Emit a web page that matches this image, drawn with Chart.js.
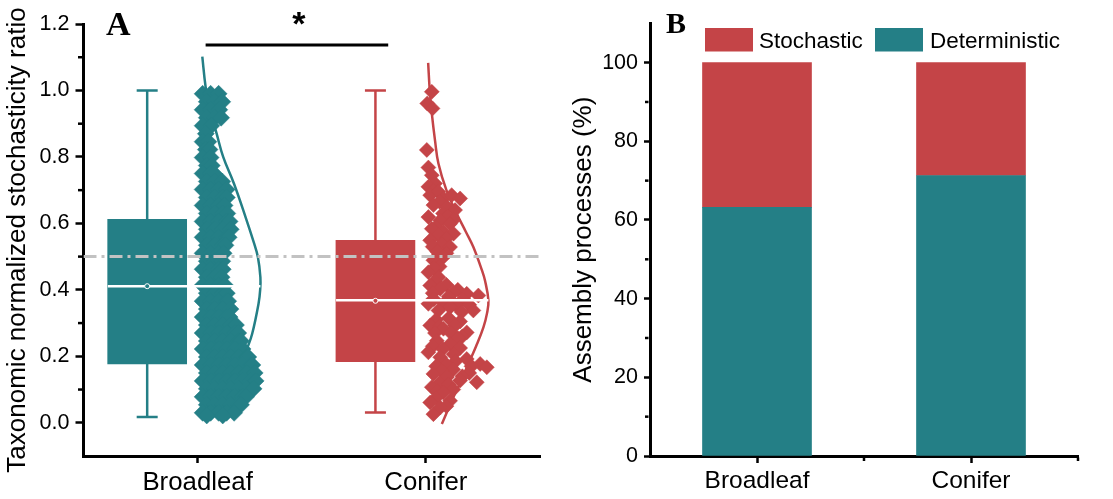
<!DOCTYPE html>
<html><head><meta charset="utf-8">
<script src="https://cdn.jsdelivr.net/npm/chart.js@4.4.1/dist/chart.umd.min.js"></script>
<style>
html,body{margin:0;padding:0;background:#fff;}
#wrap{position:relative;width:1113px;height:499px;overflow:hidden;background:#fff;}
#a{position:absolute;left:0;top:0;}
#b{position:absolute;left:560px;top:0;}
</style></head><body>
<div id="wrap"><canvas id="a" width="560" height="499"></canvas><canvas id="b" width="553" height="499"></canvas></div>
<script>
// ---------- data ----------
const categories = ['Broadleaf', 'Conifer'];
const groupX = [1, 2];
const whiskerLow = [0.017, 0.031];
const q1 = [0.177, 0.184];
const medians = [0.411, 0.369];
const means = [0.411, 0.367];
const q3 = [0.612, 0.549];
const whiskerHigh = [1.0, 1.0];
const thresholdRatio = 0.5;
const sigBracket = [1.035, 1.835, 1.137];
const yTicksA = [0, 0.2, 0.4, 0.6, 0.8, 1.0, 1.2];
const yMinorA = [0.1, 0.3, 0.5, 0.7, 0.9, 1.1];

const broadleafPoints = [
[1.022,0.990],[1.057,0.990],[1.092,0.990],
[1.040,0.966],[1.075,0.966],[1.108,0.966],
[1.022,0.942],[1.057,0.942],[1.095,0.942],
[1.040,0.918],[1.075,0.918],[1.103,0.918],
[1.022,0.894],[1.060,0.894],
[1.036,0.870],
[1.022,0.846],[1.047,0.846],
[1.036,0.822],[1.052,0.822],
[1.022,0.798],[1.057,0.798],
[1.040,0.774],[1.062,0.774],
[1.022,0.750],[1.057,0.750],[1.072,0.750],
[1.040,0.726],[1.075,0.726],[1.108,0.726],
[1.022,0.702],[1.057,0.702],[1.092,0.702],[1.127,0.702],
[1.040,0.678],[1.075,0.678],[1.110,0.678],[1.128,0.678],
[1.022,0.654],[1.057,0.654],[1.092,0.654],[1.118,0.654],
[1.040,0.630],[1.075,0.630],[1.110,0.630],[1.130,0.630],
[1.022,0.606],[1.057,0.606],[1.092,0.606],[1.127,0.606],[1.140,0.606],
[1.040,0.582],[1.075,0.582],[1.110,0.582],[1.145,0.582],
[1.022,0.558],[1.057,0.558],[1.092,0.558],[1.127,0.558],[1.136,0.558],
[1.040,0.534],[1.075,0.534],[1.110,0.534],[1.122,0.534],
[1.022,0.510],[1.057,0.510],[1.092,0.510],[1.114,0.510],
[1.040,0.486],[1.075,0.486],[1.108,0.486],
[1.022,0.462],[1.057,0.462],[1.092,0.462],[1.110,0.462],
[1.040,0.438],[1.075,0.438],[1.105,0.438],
[1.022,0.414],[1.057,0.414],[1.092,0.414],[1.120,0.414],
[1.040,0.390],[1.075,0.390],[1.110,0.390],[1.128,0.390],
[1.022,0.366],[1.057,0.366],[1.092,0.366],[1.127,0.366],[1.134,0.366],
[1.040,0.342],[1.075,0.342],[1.110,0.342],[1.144,0.342],
[1.022,0.318],[1.057,0.318],[1.092,0.318],[1.127,0.318],[1.140,0.318],
[1.040,0.294],[1.075,0.294],[1.110,0.294],[1.145,0.294],[1.168,0.294],
[1.022,0.270],[1.057,0.270],[1.092,0.270],[1.127,0.270],[1.162,0.270],[1.178,0.270],
[1.040,0.246],[1.075,0.246],[1.110,0.246],[1.145,0.246],[1.180,0.246],[1.190,0.246],
[1.022,0.222],[1.057,0.222],[1.092,0.222],[1.127,0.222],[1.162,0.222],[1.197,0.222],
[1.040,0.198],[1.075,0.198],[1.110,0.198],[1.145,0.198],[1.180,0.198],[1.215,0.198],[1.222,0.198],
[1.022,0.174],[1.057,0.174],[1.092,0.174],[1.127,0.174],[1.162,0.174],[1.197,0.174],[1.232,0.174],[1.240,0.174],
[1.040,0.150],[1.075,0.150],[1.110,0.150],[1.145,0.150],[1.180,0.150],[1.215,0.150],[1.250,0.150],
[1.022,0.126],[1.057,0.126],[1.092,0.126],[1.127,0.126],[1.162,0.126],[1.197,0.126],[1.232,0.126],[1.254,0.126],
[1.040,0.102],[1.075,0.102],[1.110,0.102],[1.145,0.102],[1.180,0.102],[1.215,0.102],[1.245,0.102],
[1.022,0.078],[1.057,0.078],[1.092,0.078],[1.127,0.078],[1.162,0.078],[1.197,0.078],[1.212,0.078],
[1.040,0.054],[1.075,0.054],[1.110,0.054],[1.145,0.054],[1.180,0.054],[1.190,0.054],
[1.022,0.030],[1.057,0.030],[1.092,0.030],[1.127,0.030],[1.160,0.030],
[1.040,0.022],[1.110,0.022]
];

const coniferPoints = [
[2.026,0.996],[2.006,0.961],[2.029,0.946],[2.004,0.821],[2.011,0.768],[2.026,0.745],
[2.040,0.720],[2.011,0.710],[2.033,0.700],[2.019,0.685],[2.055,0.695],[2.077,0.675],
[2.113,0.685],[2.150,0.675],[2.060,0.665],[2.033,0.655],[2.092,0.650],[2.128,0.640],
[2.075,0.630],[2.011,0.619],[2.095,0.620],[2.120,0.610],[2.063,0.609],[2.106,0.599],
[2.045,0.590],[2.026,0.584],[2.077,0.574],[2.121,0.569],[2.055,0.565],[2.090,0.555],
[2.019,0.549],[2.070,0.539],[2.030,0.530],[2.106,0.529],[2.050,0.515],[2.090,0.510],
[2.077,0.499],[2.033,0.489],[2.060,0.470],[2.035,0.465],[2.011,0.453],[2.055,0.438],
[2.040,0.425],[2.090,0.415],[2.019,0.413],[2.063,0.403],[2.140,0.400],[2.121,0.393],
[2.030,0.390],[2.179,0.388],[2.230,0.383],[2.100,0.380],[2.035,0.372],[2.160,0.370],
[2.080,0.360],[2.011,0.358],[2.190,0.355],[2.130,0.355],[2.106,0.348],[2.055,0.338],
[2.208,0.338],[2.157,0.333],[2.100,0.315],[2.045,0.310],[2.150,0.305],[2.019,0.293],
[2.128,0.293],[2.060,0.290],[2.077,0.283],[2.179,0.272],[2.040,0.270],[2.110,0.270],
[2.160,0.260],[2.140,0.255],[2.048,0.247],[2.106,0.237],[2.030,0.230],[2.150,0.225],
[2.075,0.222],[2.011,0.212],[2.121,0.206],[2.063,0.197],[2.179,0.192],[2.130,0.185],
[2.238,0.177],[2.090,0.175],[2.045,0.170],[2.200,0.170],[2.267,0.167],[2.120,0.160],
[2.070,0.155],[2.190,0.150],[2.033,0.147],[2.160,0.140],[2.092,0.137],[2.150,0.127],
[2.223,0.122],[2.060,0.120],[2.100,0.115],[2.026,0.107],[2.120,0.100],[2.050,0.095],
[2.077,0.091],[2.045,0.075],[2.106,0.066],[2.019,0.061],[2.090,0.050],[2.063,0.046],
[2.033,0.026]
];

const broadleafCurve = [
[1.0205,1.102],[1.035,1.011],[1.055,0.940],[1.083,0.871],[1.112,0.800],[1.159,0.720],
[1.210,0.619],[1.245,0.545],[1.264,0.499],[1.275,0.438],[1.274,0.400],[1.267,0.359],
[1.239,0.268],[1.215,0.220]
];
const coniferCurve = [
[2.010,1.083],[2.017,1.000],[2.026,0.931],[2.040,0.850],[2.055,0.780],[2.090,0.700],
[2.135,0.630],[2.175,0.575],[2.208,0.529],[2.245,0.460],[2.259,0.428],[2.274,0.368],
[2.268,0.330],[2.252,0.287],[2.220,0.230],[2.186,0.177],[2.150,0.120],[2.120,0.076],
[2.070,-0.004]
];

const deterministic = [63.2, 71.3];
const stochastic = [36.8, 28.7];
const yTicksB = [0, 20, 40, 60, 80, 100];
const yMinorB = [10, 30, 50, 70, 90];
const xMinorB = [0.5, 1.5];

// ---------- style ----------
const TEAL = '#247f86', RED = '#c44447';
const colors = [TEAL, RED];
const SANS = "'Liberation Sans', Arial, sans-serif";
const SERIF = "'Liberation Serif', 'Times New Roman', serif";
const boxOffset = -0.221, boxHalf = 0.1725, capHalf = 0.046;
Chart.defaults.font.family = SANS;
Chart.defaults.color = '#000';

const toXY = arr => arr.map(p => ({x: p[0], y: p[1]}));

function whiskerPath(i) {
  const cx = groupX[i] + boxOffset;
  return [
    {x: cx - capHalf, y: whiskerHigh[i]}, {x: cx + capHalf, y: whiskerHigh[i]}, {x: cx, y: null},
    {x: cx, y: whiskerHigh[i]}, {x: cx, y: q3[i]}, {x: cx, y: null},
    {x: cx, y: q1[i]}, {x: cx, y: whiskerLow[i]}, {x: cx, y: null},
    {x: cx - capHalf, y: whiskerLow[i]}, {x: cx + capHalf, y: whiskerLow[i]}
  ];
}
const curves = [broadleafCurve, coniferCurve];
const pointsets = [broadleafPoints, coniferPoints];

const datasetsA = [];
datasetsA.push({
  type: 'bar', order: 10,
  data: groupX.map((g, i) => ({x: g + boxOffset, y: [q1[i], q3[i]]})),
  backgroundColor: colors, borderWidth: 0, barThickness: 79, grouped: false
});
for (let i = 0; i < 2; i++) {
  datasetsA.push({type: 'line', order: 9, data: whiskerPath(i), borderColor: colors[i], borderWidth: 2.5,
    pointRadius: 0, spanGaps: false, fill: false});
  datasetsA.push({type: 'line', order: 8, data: toXY(curves[i]), borderColor: colors[i], borderWidth: 2.5,
    pointRadius: 0, tension: 0.4, fill: false});
  datasetsA.push({type: 'scatter', order: 7, data: toXY(pointsets[i]), backgroundColor: colors[i],
    borderColor: colors[i], borderWidth: 0.5, pointStyle: 'rectRot', pointRadius: i === 0 ? 8.5 : 7.5});
  const peak = Math.max(...curves[i].map(p => p[0]));
  datasetsA.push({type: 'line', order: 2, data: [{x: groupX[i] + boxOffset - boxHalf, y: medians[i]}, {x: peak, y: medians[i]}],
    borderColor: '#ffffff', borderWidth: 2.5, pointRadius: 0, fill: false});
  datasetsA.push({type: 'scatter', order: 1, data: [{x: groupX[i] + boxOffset, y: means[i]}], backgroundColor: colors[i],
    borderColor: '#ffffff', borderWidth: 1, pointStyle: 'circle', pointRadius: 2.5});
}
datasetsA.push({type: 'line', order: 3, data: [{x: 0.5, y: thresholdRatio}, {x: 2.5, y: thresholdRatio}],
  borderColor: '#c2c2c2', borderWidth: 3, borderDash: [13, 5, 3, 5], pointRadius: 0, fill: false});
datasetsA.push({type: 'line', order: 0, data: [{x: sigBracket[0], y: sigBracket[2]}, {x: sigBracket[1], y: sigBracket[2]}],
  borderColor: '#000', borderWidth: 3, pointRadius: 0, fill: false, clip: false});

const decorA = {
  id: 'decorA',
  afterDraw(chart) {
    const {ctx} = chart, x = chart.scales.x, y = chart.scales.y;
    ctx.save();
    ctx.strokeStyle = '#000'; ctx.lineWidth = 2.5;
    yMinorA.forEach(v => {
      const py = y.getPixelForValue(v);
      ctx.beginPath(); ctx.moveTo(y.right - 1.5 - 4, py); ctx.lineTo(y.right - 1.5, py); ctx.stroke();
    });
    ctx.fillStyle = '#000';
    ctx.textBaseline = 'alphabetic';
    ctx.textAlign = 'center';
    ctx.font = 'bold 34px ' + SANS;
    ctx.fillText('*', x.getPixelForValue((sigBracket[0] + sigBracket[1]) / 2) + 2, 35);
    ctx.textAlign = 'left';
    ctx.font = 'bold 34px ' + SERIF;
    ctx.fillText('A', 106, 35);
    ctx.restore();
  }
};

new Chart(document.getElementById('a'), {
  type: 'scatter',
  data: {datasets: datasetsA},
  plugins: [decorA],
  options: {
    responsive: false, animation: false, devicePixelRatio: 1, events: [],
    layout: {padding: {left: 0, top: 24, right: 20, bottom: 0}},
    plugins: {legend: {display: false}, tooltip: {enabled: false}},
    scales: {
      x: {
        type: 'linear', min: 0.5, max: 2.5, offset: false,
        afterBuildTicks: s => { s.ticks = groupX.map(v => ({value: v})); },
        afterFit: s => { s.height = 43; },
        ticks: {callback: v => categories[groupX.indexOf(v)] || '', font: {size: 25.8}, color: '#000',
          padding: 4, maxRotation: 0, autoSkip: false},
        grid: {offset: false, drawOnChartArea: false, drawTicks: true, tickLength: 7, tickWidth: 2.5, tickColor: '#000'},
        border: {display: true, color: '#000', width: 3}
      },
      y: {
        type: 'linear', min: -0.1, max: 1.2,
        afterBuildTicks: s => { s.ticks = yTicksA.map(v => ({value: v})); },
        afterFit: s => { s.width = 83.5; },
        ticks: {callback: v => Number(v).toFixed(1), font: {size: 21.5}, color: '#000', padding: 6},
        grid: {drawOnChartArea: false, drawTicks: true, tickLength: 8, tickWidth: 2.5, tickColor: '#000'},
        border: {display: true, color: '#000', width: 3},
        title: {display: true, text: 'Taxonomic normalized stochasticity ratio', font: {size: 26}, color: '#000',
          padding: {top: 2, bottom: 0}}
      }
    }
  }
});

// ---------- Panel B ----------
const decorB = {
  id: 'decorB',
  afterDraw(chart) {
    const {ctx} = chart, x = chart.scales.x, y = chart.scales.y;
    ctx.save();
    ctx.strokeStyle = '#000'; ctx.lineWidth = 2.5;
    yMinorB.forEach(v => {
      const py = y.getPixelForValue(v);
      ctx.beginPath(); ctx.moveTo(y.right - 1.5 - 3.5, py); ctx.lineTo(y.right - 1.5, py); ctx.stroke();
    });
    xMinorB.forEach(v => {
      const px = x.getPixelForValue(v);
      ctx.beginPath(); ctx.moveTo(px, x.top + 1.5); ctx.lineTo(px, x.top + 5); ctx.stroke();
    });
    ctx.textBaseline = 'alphabetic'; ctx.textAlign = 'left';
    ctx.font = '22.5px ' + SANS;
    const items = [[RED, 'Stochastic', 145, 199], [TEAL, 'Deterministic', 315, 370]];
    items.forEach(it => {
      ctx.fillStyle = it[0]; ctx.fillRect(it[2], 28, 48, 23.5);
      ctx.fillStyle = '#000'; ctx.fillText(it[1], it[3], 48.3);
    });
    ctx.font = 'bold 30px ' + SERIF;
    ctx.fillText('B', 106, 33.3);
    ctx.restore();
  }
};

new Chart(document.getElementById('b'), {
  type: 'bar',
  data: {
    labels: categories,
    datasets: [
      {label: 'Deterministic', data: deterministic, backgroundColor: TEAL, borderWidth: 0, barThickness: 109},
      {label: 'Stochastic', data: stochastic, backgroundColor: RED, borderWidth: 0, barThickness: 109}
    ]
  },
  plugins: [decorB],
  options: {
    responsive: false, animation: false, devicePixelRatio: 1, events: [],
    layout: {padding: {left: 0, top: 23.3, right: 35, bottom: 0}},
    plugins: {legend: {display: false}, tooltip: {enabled: false}},
    scales: {
      x: {
        stacked: true, offset: true,
        afterFit: s => { s.height = 43; },
        ticks: {font: {size: 24.5}, color: '#000', padding: 4, maxRotation: 0},
        grid: {offset: false, drawOnChartArea: false, drawTicks: true, tickLength: 7, tickWidth: 2.5, tickColor: '#000'},
        border: {display: true, color: '#000', width: 3}
      },
      y: {
        stacked: true, min: 0, max: 110,
        afterBuildTicks: s => { s.ticks = yTicksB.map(v => ({value: v})); },
        afterFit: s => { s.width = 90; },
        ticks: {font: {size: 21.5}, color: '#000', padding: 6},
        grid: {drawOnChartArea: false, drawTicks: true, tickLength: 6, tickWidth: 2.5, tickColor: '#000'},
        border: {display: true, color: '#000', width: 3},
        title: {display: true, text: 'Assembly processes (%)', font: {size: 26}, color: '#000',
          padding: {top: 8, bottom: 0}}
      }
    }
  }
});
</script>
</body></html>
